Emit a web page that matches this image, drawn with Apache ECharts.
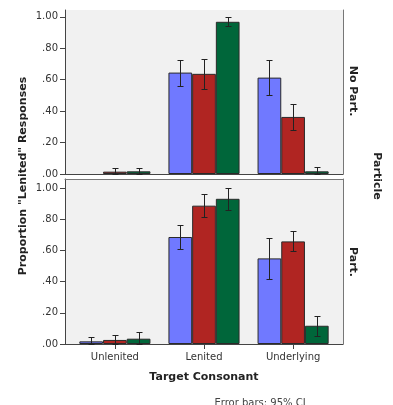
<!DOCTYPE html>
<html>
<head>
<meta charset="utf-8">
<script src="https://cdn.jsdelivr.net/npm/echarts@6/dist/echarts.min.js"></script>
<style>
html, body { margin: 0; padding: 0; background: #fff; }
#chart { width: 393px; height: 405px; }
</style>
</head>
<body>
<div id="chart"></div>
<script>
// categories and ticks
var categories = ["Unlenited", "Lenited", "Underlying"];
var yTicks = [0, 0.2, 0.4, 0.6, 0.8, 1.0];
var xTicks = [0, 1, 2];

// No Part. panel (means + 95% CI)
var noPartBlue = [null, 0.645, 0.613];
var noPartBlueLo = [null, 0.560, 0.500];
var noPartBlueHi = [null, 0.726, 0.726];
var noPartRed = [0.015, 0.637, 0.363];
var noPartRedLo = [0.000, 0.543, 0.280];
var noPartRedHi = [0.036, 0.730, 0.448];
var noPartGreen = [0.017, 0.968, 0.017];
var noPartGreenLo = [0.000, 0.943, 0.000];
var noPartGreenHi = [0.036, 1.000, 0.046];

// Part. panel
var partBlue = [0.017, 0.686, 0.549];
var partBlueLo = [0.000, 0.609, 0.417];
var partBlueHi = [0.042, 0.763, 0.677];
var partRed = [0.026, 0.887, 0.658];
var partRedLo = [0.000, 0.812, 0.594];
var partRedHi = [0.058, 0.963, 0.722];
var partGreen = [0.034, 0.931, 0.117];
var partGreenLo = [0.000, 0.861, 0.053];
var partGreenHi = [0.079, 1.000, 0.181];

var colors = ["#7079ff", "#b02522", "#00663a"];
var barW = 23.7;
var font = "DejaVu Sans";

var fmtY = function(v) {
    return v >= 1 ? "1.00" : v.toFixed(2).replace(/^0/, "");
};

function barSeries(name, vals, k, gi) {
    return {
        name: name,
        type: "bar",
        xAxisIndex: gi,
        yAxisIndex: gi,
        barWidth: barW,
        barGap: "0%",
        itemStyle: { color: colors[k], borderColor: "#2a2a2a", borderWidth: 1 },
        data: categories.map(function(c, i) { return [i, vals[i]]; })
    };
}

function errSeries(name, lo, hi, k, gi) {
    var data = [];
    categories.forEach(function(c, i) {
        if (lo[i] != null) data.push([i, lo[i], hi[i]]);
    });
    var off = (k - 1) * barW;
    return {
        name: name,
        type: "custom",
        xAxisIndex: gi,
        yAxisIndex: gi,
        z: 5,
        data: data,
        encode: { x: 0, y: [1, 2] },
        renderItem: function(params, api) {
            var top = api.coord([api.value(0), api.value(2)]);
            var bot = api.coord([api.value(0), api.value(1)]);
            var cx = Math.round(top[0] + off) + 0.5;
            var y1 = Math.round(top[1]) + 0.5, y2 = Math.round(bot[1]) + 0.5;
            var st = { stroke: "#222", lineWidth: 1 };
            return {
                type: "group",
                children: [
                    { type: "line", shape: { x1: cx, y1: y1, x2: cx, y2: y2 }, style: st },
                    { type: "line", shape: { x1: cx - 3, y1: y1, x2: cx + 3, y2: y1 }, style: st },
                    { type: "line", shape: { x1: cx - 3, y1: y2, x2: cx + 3, y2: y2 }, style: st }
                ]
            };
        }
    };
}

var chart = echarts.init(document.getElementById("chart"));

var leftY = function(gi, max) {
    return {
        type: "value", gridIndex: gi, min: 0, max: max,
        axisLine: { show: true, onZero: false, lineStyle: { color: "#444" } },
        axisTick: { show: true, length: 5, customValues: yTicks, lineStyle: { color: "#444" } },
        axisLabel: { customValues: yTicks, formatter: fmtY, margin: 7, color: "#333", fontSize: 10, fontFamily: font },
        splitLine: { show: false }
    };
};
var rightY = function(gi, max) {
    return {
        type: "value", gridIndex: gi, position: "right", min: 0, max: max,
        axisLine: { show: true, onZero: false, lineStyle: { color: "#777" } },
        axisTick: { show: false }, axisLabel: { show: false }, splitLine: { show: false }
    };
};

chart.setOption({
    animation: false,
    grid: [
        { left: 65, top: 10, width: 278, height: 164, show: true, backgroundColor: "#f1f1f1", borderWidth: 0 },
        { left: 65, top: 179, width: 278, height: 165, show: true, backgroundColor: "#f1f1f1", borderWidth: 0 }
    ],
    xAxis: [
        {
            type: "value", gridIndex: 0, min: -0.56, max: 2.56,
            axisLine: { show: true, onZero: false, lineStyle: { color: "#444" } },
            axisTick: { show: false }, axisLabel: { show: false }, splitLine: { show: false }
        },
        {
            type: "value", gridIndex: 1, min: -0.56, max: 2.56,
            axisLine: { show: true, onZero: false, lineStyle: { color: "#444" } },
            axisTick: { show: true, length: 5, customValues: xTicks, lineStyle: { color: "#444" } },
            axisLabel: {
                customValues: xTicks, margin: 8, color: "#333", fontSize: 10, fontFamily: font,
                formatter: function(v) { return categories[Math.round(v)]; }
            },
            splitLine: { show: false }
        },
        {
            type: "value", gridIndex: 1, position: "top", min: -0.56, max: 2.56,
            axisLine: { show: true, onZero: false, lineStyle: { color: "#777" } },
            axisTick: { show: false }, axisLabel: { show: false }, splitLine: { show: false }
        }
    ],
    yAxis: [leftY(0, 1.043), leftY(1, 1.058), rightY(0, 1.043), rightY(1, 1.058)],
    graphic: [
        { type: "text", x: 23, y: 176, rotation: Math.PI / 2,
          style: { text: "Proportion \"Lenited\" Responses", font: "bold 11px " + font, fill: "#222", align: "center", verticalAlign: "middle" } },
        { type: "text", x: 204, y: 377, style: { text: "Target Consonant", font: "bold 11px " + font, fill: "#222", align: "center", verticalAlign: "middle" } },
        { type: "text", x: 260, y: 398, style: { text: "Error bars: 95% CI", font: "10px " + font, fill: "#444", align: "center", verticalAlign: "top" } },
        { type: "text", x: 353, y: 91, rotation: -Math.PI / 2, style: { text: "No Part.", font: "bold 11px " + font, fill: "#222", align: "center", verticalAlign: "middle" } },
        { type: "text", x: 353, y: 262, rotation: -Math.PI / 2, style: { text: "Part.", font: "bold 11px " + font, fill: "#222", align: "center", verticalAlign: "middle" } },
        { type: "text", x: 377, y: 176, rotation: -Math.PI / 2, style: { text: "Particle", font: "bold 11px " + font, fill: "#222", align: "center", verticalAlign: "middle" } }
    ],
    series: [
        barSeries("Blue", noPartBlue, 0, 0),
        barSeries("Red", noPartRed, 1, 0),
        barSeries("Green", noPartGreen, 2, 0),
        errSeries("Blue CI", noPartBlueLo, noPartBlueHi, 0, 0),
        errSeries("Red CI", noPartRedLo, noPartRedHi, 1, 0),
        errSeries("Green CI", noPartGreenLo, noPartGreenHi, 2, 0),
        barSeries("Blue", partBlue, 0, 1),
        barSeries("Red", partRed, 1, 1),
        barSeries("Green", partGreen, 2, 1),
        errSeries("Blue CI", partBlueLo, partBlueHi, 0, 1),
        errSeries("Red CI", partRedLo, partRedHi, 1, 1),
        errSeries("Green CI", partGreenLo, partGreenHi, 2, 1)
    ]
});
</script>
</body>
</html>
